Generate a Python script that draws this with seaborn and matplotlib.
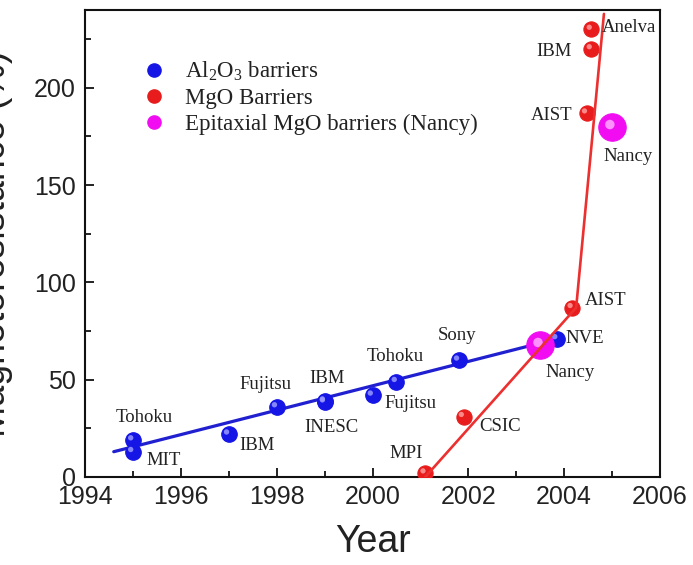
import numpy as np
import pandas as pd
import matplotlib
matplotlib.use("Agg")
import matplotlib.pyplot as plt
from matplotlib.lines import Line2D
from matplotlib.transforms import ScaledTranslation
import seaborn as sns

# ---------------- data ----------------
al_years = [1995, 1995, 1997, 1998, 1999, 1999, 2000, 2000.5, 2001.8, 2003.85]
al_tmr = [19, 13, 22, 36, 39, 38.5, 42, 49, 60, 71]
al_labels = ["Tohoku", "MIT", "IBM", "Fujitsu", "IBM", "INESC", "Fujitsu", "Tohoku", "Sony", "NVE"]

mgo_years = [2001.1, 2001.9, 2004.17, 2004.47, 2004.57, 2004.57]
mgo_tmr = [2, 31, 87, 187, 220, 230]
mgo_labels = ["MPI", "CSIC", "AIST", "AIST", "IBM", "Anelva"]

nancy_years = [2003.5, 2005.0]
nancy_tmr = [68, 180]
nancy_labels = ["Nancy", "Nancy"]

al_fit_years = [1994.6, 2003.85]
al_fit_tmr = [13, 71]
mgo_trend_years = [2001.1, 2004.25, 2004.83]
mgo_trend_tmr = [0, 87, 238]

series_names = ["Al$_2$O$_3$ barriers", "MgO Barriers", "Epitaxial MgO barriers (Nancy)"]
x_ticks = [1994, 1996, 1998, 2000, 2002, 2004, 2006]
y_ticks = [0, 50, 100, 150, 200]

# label offsets in points (layout)
al_offsets = [(8, 16), (22, -6), (20, -8.5), (-8, 16.5), (1.5, 16.5), (5, -18),
              (27, -6), (-1, 18), (-1, 18), (20, 0)]
mgo_offsets = [(-13.7, 14.4), (26.6, -7), (24, 5), (-25, -1.5), (-27, -1.5), (27, 1.5)]
nancy_offsets = [(21.6, -20), (11.5, -21.6)]

# ---------------- style ----------------
sns.set_theme(style="white")
plt.rcParams["font.family"] = ["Liberation Sans", "DejaVu Sans"]
plt.rcParams["mathtext.fontset"] = "custom"
plt.rcParams["mathtext.rm"] = "Liberation Serif"
plt.rcParams["mathtext.it"] = "Liberation Serif:italic"
plt.rcParams["mathtext.bf"] = "Liberation Serif:bold"

BLUE = "#1515e6"
RED = "#e81c1c"
MAG = "#f20cf2"
BLUE_L = "#9a9aff"
RED_L = "#ff9c9c"
MAG_L = "#ffa8ff"

fig = plt.figure(figsize=(6.93, 5.65), dpi=100)
ax = fig.add_axes([85 / 693, 88 / 565, 575 / 693, 467 / 565])

al_df = pd.DataFrame({"year": al_years, "tmr": al_tmr})
mgo_df = pd.DataFrame({"year": mgo_years, "tmr": mgo_tmr})
nancy_df = pd.DataFrame({"year": nancy_years, "tmr": nancy_tmr})

# lines
sns.lineplot(x=al_fit_years, y=al_fit_tmr, ax=ax, color="#2020d0", lw=2.3, sort=False, zorder=2)

# points with a small highlight for sphere look
hl = ax.transData + ScaledTranslation(-1.6 / 72, 1.6 / 72, fig.dpi_scale_trans)
for df, c, cl, s in [(al_df, BLUE, BLUE_L, 125), (mgo_df, RED, RED_L, 120), (nancy_df, MAG, MAG_L, 390)]:
    sns.scatterplot(data=df, x="year", y="tmr", ax=ax, color=c, s=s, edgecolor=c,
                    linewidth=0.8, zorder=3, legend=False)
    sns.scatterplot(data=df, x="year", y="tmr", ax=ax, color=cl, s=s * 0.12, edgecolor="none",
                    linewidth=0, zorder=4, legend=False, transform=hl, alpha=0.85)

sns.lineplot(x=mgo_trend_years, y=mgo_trend_tmr, ax=ax, color="#ec3030", lw=1.9, sort=False, zorder=5)

# annotations
for xs, ys, labs, offs in [(al_years, al_tmr, al_labels, al_offsets),
                           (mgo_years, mgo_tmr, mgo_labels, mgo_offsets),
                           (nancy_years, nancy_tmr, nancy_labels, nancy_offsets)]:
    for x, y, lab, off in zip(xs, ys, labs, offs):
        ax.annotate(lab, (x, y), xytext=off, textcoords="offset points",
                    ha="center", va="center", fontsize=13.5,
                    family=["Liberation Serif"], color="#222222", zorder=6,
                    annotation_clip=False)

# axes
ax.set_xlim(1994, 2006)
ax.set_ylim(0, 240)
ax.set_xticks(x_ticks)
ax.set_yticks(y_ticks)
ax.set_xticks(np.arange(1995, 2006, 2), minor=True)
ax.set_yticks(np.arange(25, 240, 50), minor=True)
ax.tick_params(which="both", direction="in", left=True, bottom=True, top=False, right=False,
               width=1.3, color="#111111")
ax.tick_params(which="major", length=6.5)
ax.tick_params(which="minor", length=4)
ax.tick_params(axis="x", labelsize=18, pad=5.5, labelcolor="#222222")
ax.tick_params(axis="y", labelsize=18, pad=6.5, labelcolor="#222222")
for sp in ax.spines.values():
    sp.set_visible(True)
    sp.set_linewidth(1.5)
    sp.set_color("#111111")

ax.set_xlabel("Year", fontsize=27, color="#222222")
ax.set_ylabel("Magnetoresistance (%)", fontsize=27, color="#222222")
ax.xaxis.set_label_coords(0.5, -0.1)
ax.yaxis.set_label_coords(-0.125, 0.5)

# legend
handles = [Line2D([], [], ls="none", marker="o", ms=9.5, color=c, mec=c)
           for c in (BLUE, RED, MAG)]
leg = ax.legend(handles, series_names, loc="upper left", bbox_to_anchor=(0.1, 0.893),
                frameon=False, borderaxespad=0, borderpad=0, handlelength=1.0,
                handletextpad=0.85, labelspacing=0.2,
                prop={"family": "Liberation Serif", "size": 16.5})
for t in leg.get_texts():
    t.set_color("#222222")

fig.savefig("out.png", dpi=100)
